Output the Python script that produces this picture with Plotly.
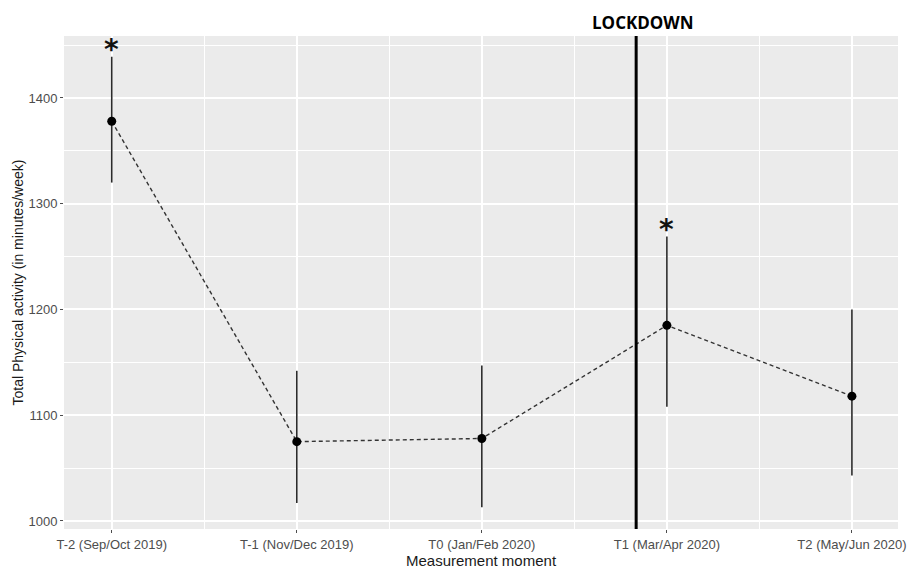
import plotly.graph_objects as go

# ---- data ----
moments = ["T-2 (Sep/Oct 2019)", "T-1 (Nov/Dec 2019)", "T0 (Jan/Feb 2020)",
           "T1 (Mar/Apr 2020)", "T2 (May/Jun 2020)"]
mean_pa = [1378, 1075, 1078, 1185, 1118]
upper_ci = [1439, 1142, 1147, 1269, 1200]
lower_ci = [1320, 1017, 1013, 1108, 1043]
significance = ["*", "", "", "*", ""]
lockdown_x = 3.834
y_ticks = [1000, 1100, 1200, 1300, 1400]

x_pos = list(range(1, len(moments) + 1))
err_plus = [u - m for u, m in zip(upper_ci, mean_pa)]
err_minus = [m - l for m, l in zip(mean_pa, lower_ci)]

fig = go.Figure()

# error bars
fig.add_trace(go.Scatter(
    x=x_pos, y=mean_pa, mode="markers",
    marker=dict(size=1, color="rgba(0,0,0,0)"),
    error_y=dict(type="data", symmetric=False, array=err_plus, arrayminus=err_minus,
                 thickness=1.6, width=0, color="#2b2b2b"),
    hoverinfo="skip", showlegend=False))

# dashed line
fig.add_trace(go.Scatter(
    x=x_pos, y=mean_pa, mode="lines",
    line=dict(color="#333333", width=1.4, dash="4px,3px"),
    showlegend=False))

# points
fig.add_trace(go.Scatter(
    x=x_pos, y=mean_pa, mode="markers",
    marker=dict(size=9, color="black"),
    showlegend=False))

# significance stars
for x, u, s in zip(x_pos, upper_ci, significance):
    if s:
        fig.add_annotation(x=x, y=u, xref="x", yref="y", text="<b>" + s + "</b>", showarrow=False,
                           xanchor="center", yanchor="middle", yshift=7,
                           font=dict(family="DejaVu Sans", size=28, color="#111111"))

# lockdown line
fig.add_shape(type="line", xref="x", yref="paper",
              x0=lockdown_x, x1=lockdown_x, y0=0, y1=1,
              line=dict(color="black", width=3))
fig.add_annotation(x=lockdown_x, xref="x", y=1, yref="paper",
                   text="<b>LOCKDOWN</b>", showarrow=False,
                   xanchor="center", yanchor="middle", xshift=7, yshift=14,
                   font=dict(family="Open Sans", size=17, color="black"))

# axis titles
fig.add_annotation(x=0.5, y=0, xref="paper", yref="paper", text="Measurement moment",
                   showarrow=False, xanchor="center", yanchor="middle", yshift=-31,
                   font=dict(size=15, color="#1a1a1a"))
fig.add_annotation(x=0, y=0.5, xref="paper", yref="paper",
                   text="Total Physical activity (in minutes/week)", textangle=-90,
                   showarrow=False, xanchor="center", yanchor="middle", xshift=-47,
                   font=dict(size=14, color="#1a1a1a"))

fig.update_layout(
    width=907, height=568,
    margin=dict(l=64, r=9, t=36, b=39),
    paper_bgcolor="white", plot_bgcolor="#EBEBEB",
    font=dict(family="Liberation Sans, Arial", color="#4D4D4D"),
    showlegend=False,
)
fig.update_xaxes(
    range=[0.742, 5.249], tickmode="array", tickvals=x_pos, ticktext=moments,
    showgrid=True, gridcolor="white", gridwidth=1.6, zeroline=False, automargin=False,
    ticks="outside", ticklen=3, tickcolor="#4D4D4D", tickwidth=1,
    tickfont=dict(size=13, color="#4D4D4D"),
    minor=dict(tickvals=[1.5, 2.5, 3.5, 4.5], showgrid=True, gridcolor="white", gridwidth=0.8, ticks=""),
    showline=False,
)
fig.update_yaxes(
    range=[992.4, 1458.6], tickmode="array", tickvals=y_ticks,
    showgrid=True, gridcolor="white", gridwidth=1.6, zeroline=False, automargin=False,
    ticks="outside", ticklen=3, tickcolor="#4D4D4D", tickwidth=1,
    tickfont=dict(size=13, color="#4D4D4D"),
    minor=dict(tickvals=[1050, 1150, 1250, 1350, 1450], showgrid=True, gridcolor="white", gridwidth=0.8, ticks=""),
    showline=False,
)

fig.write_html("out.html", config={"displayModeBar": False},
               post_script="document.body.style.margin='0';")
